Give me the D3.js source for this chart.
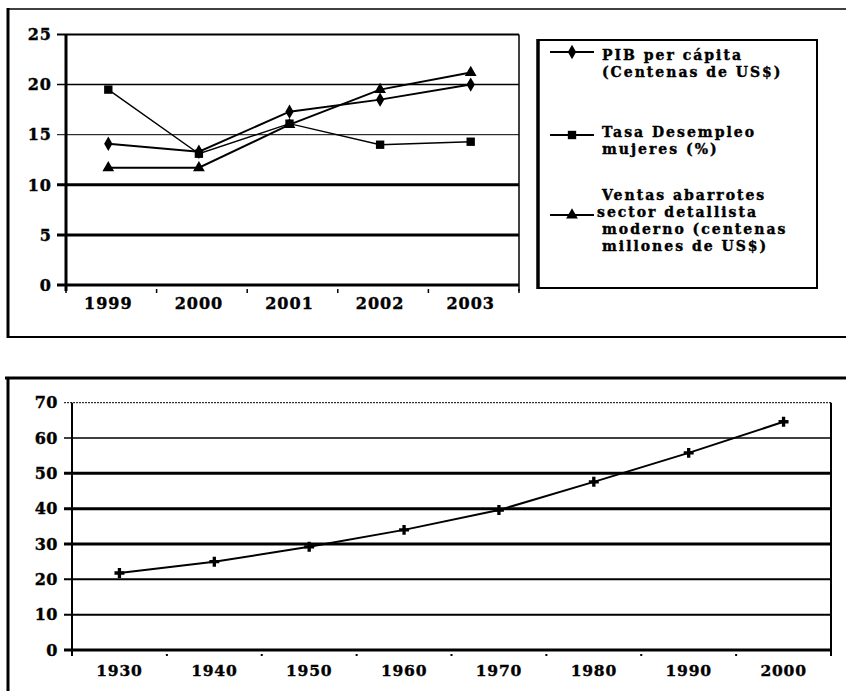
<!DOCTYPE html>
<html>
<head>
<meta charset="utf-8">
<script src="https://cdn.jsdelivr.net/npm/d3@7"></script>
<style>
  body { margin: 0; background: #fff; }
  svg { display: block; }
  text { font-family: "DejaVu Serif", serif; font-weight: bold; fill: #000; stroke: #000; stroke-width: 0.4; }
</style>
</head>
<body>
<svg id="chart" width="846" height="691"></svg>
<script>
// chart 1 data
const years1 = ["1999", "2000", "2001", "2002", "2003"];
const pib = [14.1, 13.3, 17.3, 18.5, 20.0];
const desempleo = [19.5, 13.1, 16.1, 14.0, 14.3];
const ventas = [11.7, 11.7, 16.0, 19.5, 21.2];
const yTicks1 = [0, 5, 10, 15, 20, 25];
const legend1 = [
  ["PIB per cápita", "(Centenas de US$)"],
  ["Tasa Desempleo", "mujeres (%)"],
  ["Ventas abarrotes", "sector detallista", "moderno (centenas", "millones de US$)"]
];

// chart 2 data
const years2 = ["1930", "1940", "1950", "1960", "1970", "1980", "1990", "2000"];
const values2 = [21.8, 25.0, 29.2, 34.0, 39.6, 47.6, 55.8, 64.6];
const yTicks2 = [0, 10, 20, 30, 40, 50, 60, 70];

window.addEventListener("load", drawAll);

function drawAll() {
    var svg = d3.select("#chart");
    drawTop(svg);
    drawBottom(svg);
}

function drawTop(svg) {
    var g = svg.append("g");

    // scanned frame around the first figure
    g.append("line").attr("x1", 7).attr("x2", 846).attr("y1", 9).attr("y2", 9)
        .attr("stroke", "#000").attr("stroke-width", 1.5);
    g.append("line").attr("x1", 8).attr("x2", 8).attr("y1", 8).attr("y2", 338)
        .attr("stroke", "#000").attr("stroke-width", 3);
    g.append("line").attr("x1", 7).attr("x2", 846).attr("y1", 337).attr("y2", 337)
        .attr("stroke", "#000").attr("stroke-width", 2);

    var x = d3.scaleBand().domain(years1).range([66, 519]);
    var y = d3.scaleLinear().domain([0, 25]).range([285, 34.5]);

    var gridW = { 0: 3, 5: 3, 10: 3, 15: 1, 20: 1.5, 25: 2 };
    g.selectAll(".grid1").data(yTicks1).join("line")
        .attr("class", "grid1")
        .attr("x1", 57).attr("x2", 519)
        .attr("y1", d => y(d)).attr("y2", d => y(d))
        .attr("stroke", "#000").attr("stroke-width", d => gridW[d]);

    // axis and right border
    g.append("line").attr("x1", 66).attr("x2", 66).attr("y1", y(25)).attr("y2", 291)
        .attr("stroke", "#000").attr("stroke-width", 3);
    g.append("line").attr("x1", 519).attr("x2", 519).attr("y1", y(25)).attr("y2", 291)
        .attr("stroke", "#000").attr("stroke-width", 1.5);

    // tick marks between categories
    var bounds = years1.map(d => x(d)).concat([x.range()[1]]);
    g.selectAll(".xt1").data(bounds).join("line")
        .attr("class", "xt1")
        .attr("x1", d => d).attr("x2", d => d)
        .attr("y1", 289).attr("y2", 293)
        .attr("stroke", "#000").attr("stroke-width", 1.5);

    g.selectAll(".ylab1").data(yTicks1).join("text")
        .attr("class", "ylab1")
        .attr("x", 52).attr("y", d => y(d)).attr("dy", "0.36em")
        .attr("text-anchor", "end").attr("font-size", 16)
        .attr("letter-spacing", 1)
        .text(d => d);

    g.selectAll(".xlab1").data(years1).join("text")
        .attr("class", "xlab1")
        .attr("x", d => x(d) + x.bandwidth() / 2 - 3).attr("y", 309)
        .attr("text-anchor", "middle").attr("font-size", 16)
        .attr("letter-spacing", 1)
        .text(d => d);

    var series = [
        { vals: pib, sym: d3.symbolDiamond, size: 60 },
        { vals: desempleo, sym: d3.symbolSquare, size: 70 },
        { vals: ventas, sym: d3.symbolTriangle, size: 60 }
    ];
    var line = d3.line()
        .x((d, i) => x(years1[i]) + x.bandwidth() / 2 - 3)
        .y(d => y(d));

    series.forEach(function(s, k) {
        g.append("path").datum(s.vals)
            .attr("d", line)
            .attr("fill", "none").attr("stroke", "#000")
            .attr("stroke-width", k == 1 ? 1.4 : 2);
        g.selectAll(".m" + k).data(s.vals).join("path")
            .attr("class", "m" + k)
            .attr("transform", (d, i) => "translate(" + (x(years1[i]) + x.bandwidth() / 2 - 3) + "," + y(d) + ")")
            .attr("d", d3.symbol().type(s.sym).size(s.size))
            .attr("fill", "#000");
    });

    // legend box
    g.append("rect").attr("x", 538).attr("y", 40).attr("width", 279).attr("height", 248)
        .attr("fill", "none").attr("stroke", "#000").attr("stroke-width", 2);
    g.append("line").attr("x1", 538).attr("x2", 538).attr("y1", 39).attr("y2", 289)
        .attr("stroke", "#000").attr("stroke-width", 3.5);

    var legY = [52, 135, 215];
    var textY = [60, 137, 200];
    var step = 17;
    legend1.forEach(function(lines, k) {
        g.append("line").attr("x1", 550).attr("x2", 594)
            .attr("y1", legY[k]).attr("y2", legY[k])
            .attr("stroke", "#000").attr("stroke-width", 2);
        g.append("path")
            .attr("transform", "translate(572," + legY[k] + ")")
            .attr("d", d3.symbol().type(series[k].sym).size(series[k].size))
            .attr("fill", "#000");
        g.selectAll(".leg" + k).data(lines).join("text")
            .attr("class", "leg" + k)
            .attr("x", (d, i) => (k == 2 && i == 1) ? 597 : 602)
            .attr("y", (d, i) => textY[k] + i * step)
            .attr("font-size", 14)
            .attr("letter-spacing", 2)
            .text(d => d);
    });
}

function drawBottom(svg) {
    var g = svg.append("g");

    g.append("line").attr("x1", 5).attr("x2", 846).attr("y1", 378).attr("y2", 378)
        .attr("stroke", "#000").attr("stroke-width", 3);
    g.append("line").attr("x1", 8).attr("x2", 8).attr("y1", 377).attr("y2", 691)
        .attr("stroke", "#000").attr("stroke-width", 3);

    var x = d3.scaleBand().domain(years2).range([72, 831]);
    var y = d3.scaleLinear().domain([0, 70]).range([650, 402.7]);

    var gridW = { 0: 3, 10: 2, 20: 2, 30: 3, 40: 3, 50: 3, 60: 1.5, 70: 1 };
    g.selectAll(".grid2").data(yTicks2).join("line")
        .attr("class", "grid2")
        .attr("x1", 64).attr("x2", 831)
        .attr("y1", d => y(d)).attr("y2", d => y(d))
        .attr("stroke", "#000").attr("stroke-width", d => gridW[d])
        .attr("stroke-dasharray", d => d == 70 ? "2,1" : null);

    g.append("line").attr("x1", 72).attr("x2", 72).attr("y1", y(70)).attr("y2", 655)
        .attr("stroke", "#000").attr("stroke-width", 2);
    g.append("line").attr("x1", 831).attr("x2", 831).attr("y1", y(70)).attr("y2", 656)
        .attr("stroke", "#000").attr("stroke-width", 2);

    var bounds = years2.map(d => x(d)).concat([x.range()[1]]);
    g.selectAll(".xt2").data(bounds).join("rect")
        .attr("class", "xt2")
        .attr("x", d => d - 1).attr("y", 654)
        .attr("width", 2).attr("height", 2)
        .attr("fill", "#000");

    g.selectAll(".ylab2").data(yTicks2).join("text")
        .attr("class", "ylab2")
        .attr("x", 58).attr("y", d => y(d)).attr("dy", "0.36em")
        .attr("text-anchor", "end").attr("font-size", 16)
        .attr("letter-spacing", 0.5)
        .text(d => d);

    g.selectAll(".xlab2").data(years2).join("text")
        .attr("class", "xlab2")
        .attr("x", d => x(d) + x.bandwidth() / 2).attr("y", 676)
        .attr("text-anchor", "middle").attr("font-size", 15.5)
        .attr("letter-spacing", 0.8)
        .text(d => d);

    var line = d3.line()
        .x((d, i) => x(years2[i]) + x.bandwidth() / 2)
        .y(d => y(d));
    g.append("path").datum(values2)
        .attr("d", line)
        .attr("fill", "none").attr("stroke", "#000").attr("stroke-width", 2);
    g.selectAll(".m2").data(values2).join("path")
        .attr("class", "m2")
        .attr("transform", (d, i) => "translate(" + (x(years2[i]) + x.bandwidth() / 2) + "," + y(d) + ")")
        .attr("d", d3.symbol().type(d3.symbolCross).size(55))
        .attr("fill", "#000");
}
</script>
</body>
</html>
